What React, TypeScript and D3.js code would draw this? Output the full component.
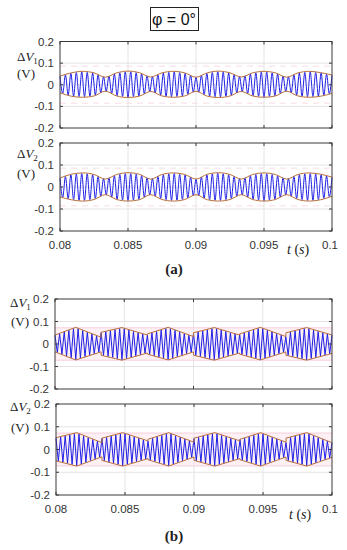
import React from "react";
import * as d3 from "d3";

const xTicks = [0.08, 0.085, 0.09, 0.095, 0.1];
const xTickLabels = ["0.08", "0.085", "0.09", "0.095", "0.1"];
const yTicks = [0.2, 0.1, 0, -0.1, -0.2];
const yTickLabels = ["0.2", "0.1", "0", "-0.1", "-0.2"];

// (a) envelope key times (quarter periods of the 300 Hz envelope)
const envTimesA = [
  0.08, 0.08083, 0.08167, 0.0825, 0.08333, 0.08417, 0.085, 0.08583, 0.08667,
  0.0875, 0.08833, 0.08917, 0.09, 0.09083, 0.09167, 0.0925, 0.09333, 0.09417,
  0.095, 0.09583, 0.09667, 0.0975, 0.09833, 0.09917, 0.1,
];
const a1Upper = [
  0.04, 0.055, 0.062, 0.055, 0.035, 0.055, 0.063, 0.056, 0.036, 0.055, 0.062,
  0.055, 0.035, 0.055, 0.063, 0.055, 0.036, 0.055, 0.062, 0.055, 0.035, 0.055,
  0.062, 0.056, 0.045,
];
const a1Lower = [
  -0.037, -0.053, -0.058, -0.052, -0.03, -0.052, -0.059, -0.053, -0.031,
  -0.052, -0.058, -0.052, -0.03, -0.053, -0.059, -0.052, -0.031, -0.052,
  -0.058, -0.052, -0.03, -0.052, -0.058, -0.053, -0.04,
];
const a2Upper = [
  0.041, 0.058, 0.064, 0.057, 0.036, 0.057, 0.065, 0.058, 0.036, 0.057, 0.064,
  0.057, 0.036, 0.058, 0.065, 0.057, 0.036, 0.057, 0.064, 0.057, 0.036, 0.057,
  0.064, 0.058, 0.045,
];
const a2Lower = [
  -0.045, -0.058, -0.064, -0.057, -0.035, -0.057, -0.064, -0.058, -0.035,
  -0.057, -0.064, -0.057, -0.035, -0.058, -0.064, -0.057, -0.035, -0.057,
  -0.064, -0.057, -0.035, -0.057, -0.064, -0.058, -0.042,
];

// (b) envelope: six segments with jumps at the boundaries
const envTimesB = [
  0.08, 0.0815, 0.08333, 0.08333, 0.08483, 0.08667, 0.08667, 0.08817, 0.09,
  0.09, 0.0915, 0.09333, 0.09333, 0.09483, 0.09667, 0.09667, 0.09817, 0.1,
];
const b1Upper = [
  0.04, 0.074, 0.03, 0.052, 0.073, 0.04, 0.045, 0.074, 0.033, 0.05, 0.073,
  0.04, 0.045, 0.074, 0.033, 0.05, 0.073, 0.04,
];
const b1Lower = [
  -0.035, -0.071, -0.035, -0.05, -0.072, -0.04, -0.045, -0.071, -0.035,
  -0.05, -0.072, -0.04, -0.045, -0.071, -0.035, -0.05, -0.072, -0.042,
];
const b2Upper = [
  0.052, 0.074, 0.03, 0.05, 0.074, 0.038, 0.045, 0.074, 0.032, 0.05, 0.074,
  0.038, 0.045, 0.074, 0.032, 0.05, 0.074, 0.03,
];
const b2Lower = [
  -0.05, -0.073, -0.032, -0.048, -0.073, -0.04, -0.045, -0.073, -0.033,
  -0.048, -0.073, -0.04, -0.045, -0.073, -0.033, -0.048, -0.073, -0.035,
];

const carrierHzA = 2500;
const carrierHzB = 3000;

const BLUE = "#1f1fe6";
const ENV = "#b8703e";
const PINK = "#f4bfd4";
const GRID = "#e4e4e4";
const SANS = "'Liberation Sans', Arial, sans-serif";
const SERIF = "'Liberation Serif', 'Times New Roman', serif";

function sampleEnv(times: number[], vals: number[], t: number): number {
  for (let i = 0; i < times.length - 1; i++) {
    const ta = times[i];
    const tb = times[i + 1];
    if (tb <= ta) continue;
    if (t >= ta && (t < tb || i === times.length - 2)) {
      const u = (t - ta) / (tb - ta);
      return vals[i] + (vals[i + 1] - vals[i]) * u;
    }
  }
  return vals[vals.length - 1];
}

type PanelProps = {
  left: number;
  right: number;
  top: number;
  bottom: number;
  times: number[];
  upper: number[];
  lower: number[];
  hz: number;
  smooth: boolean;
  showX: boolean;
  band: boolean;
};

function Panel(p: PanelProps) {
  const x = d3.scaleLinear().domain([0.08, 0.1]).range([p.left, p.right]);
  const y = d3.scaleLinear().domain([-0.2, 0.2]).range([p.bottom, p.top]);
  const half = 1 / (2 * p.hz);
  const carrier: [number, number][] = [];
  for (let k = 0; ; k++) {
    const t = 0.08 + k * half;
    if (t > 0.1 + 1e-9) break;
    const v =
      k % 2 === 0
        ? sampleEnv(p.times, p.upper, t)
        : sampleEnv(p.times, p.lower, t);
    carrier.push([t, v * 0.97]);
  }
  const line = d3
    .line<[number, number]>()
    .x((d) => x(d[0]))
    .y((d) => y(d[1]))
    .curve(p.smooth ? d3.curveMonotoneX : d3.curveLinear);
  const lineLin = d3
    .line<[number, number]>()
    .x((d) => x(d[0]))
    .y((d) => y(d[1]));
  const up: [number, number][] = p.times.map((t, i) => [t, p.upper[i]]);
  const lo: [number, number][] = p.times.map((t, i) => [t, p.lower[i]]);
  return (
    <g>
      <rect x={p.left} y={p.top} width={p.right - p.left} height={p.bottom - p.top} fill="#fff" />
      {p.band ? (
        <g>
          <rect
            x={p.left}
            y={y(0.075)}
            width={p.right - p.left}
            height={y(-0.075) - y(0.075)}
            fill="#fdf1f6"
          />
          <line x1={p.left} x2={p.right} y1={y(0.072)} y2={y(0.072)} stroke={PINK} strokeWidth={1} opacity={0.6} />
          <line x1={p.left} x2={p.right} y1={y(-0.072)} y2={y(-0.072)} stroke={PINK} strokeWidth={1} opacity={0.6} />
        </g>
      ) : (
        <g>
          <line x1={p.left} x2={p.right} y1={y(0.085)} y2={y(0.085)} stroke={PINK} strokeWidth={1.5} strokeDasharray="6 5" opacity={0.35} />
          <line x1={p.left} x2={p.right} y1={y(-0.085)} y2={y(-0.085)} stroke={PINK} strokeWidth={1.5} strokeDasharray="6 5" opacity={0.35} />
        </g>
      )}
      {xTicks.slice(1, -1).map((t) => (
        <line key={"gx" + t} x1={x(t)} x2={x(t)} y1={p.top} y2={p.bottom} stroke={GRID} strokeWidth={1} />
      ))}
      {yTicks.slice(1, -1).map((t) => (
        <line key={"gy" + t} x1={p.left} x2={p.right} y1={y(t)} y2={y(t)} stroke={GRID} strokeWidth={1} />
      ))}
      <path d={line(carrier) || ""} fill="none" stroke={BLUE} strokeWidth={1} />
      <path d={(p.smooth ? line(up) : lineLin(up)) || ""} fill="none" stroke={ENV} strokeWidth={1} />
      <path d={(p.smooth ? line(lo) : lineLin(lo)) || ""} fill="none" stroke={ENV} strokeWidth={1} />
      <rect x={p.left} y={p.top} width={p.right - p.left} height={p.bottom - p.top} fill="none" stroke="#3a3a3a" strokeWidth={1} />
      {xTicks.map((t) => (
        <g key={"tx" + t}>
          <line x1={x(t)} x2={x(t)} y1={p.bottom} y2={p.bottom - 3} stroke="#3a3a3a" />
          <line x1={x(t)} x2={x(t)} y1={p.top} y2={p.top + 3} stroke="#3a3a3a" />
        </g>
      ))}
      {yTicks.map((t) => (
        <g key={"ty" + t}>
          <line x1={p.left} x2={p.left + 3} y1={y(t)} y2={y(t)} stroke="#3a3a3a" />
          <line x1={p.right} x2={p.right - 3} y1={y(t)} y2={y(t)} stroke="#3a3a3a" />
        </g>
      ))}
      {yTicks.map((t, i) => (
        <text
          key={"ly" + t}
          x={p.left - 6}
          y={y(t)}
          dy="0.35em"
          textAnchor="end"
          fontFamily={SANS}
          fontSize={11.5}
          fill="#333"
        >
          {yTickLabels[i]}
        </text>
      ))}
      {p.showX &&
        xTicks.map((t, i) => (
          <text
            key={"lx" + t}
            x={x(t) - (i === xTicks.length - 1 ? 2 : 0)}
            y={p.bottom + 14}
            dy="0.35em"
            textAnchor="middle"
            fontFamily={SANS}
            fontSize={11.5}
            fill="#333"
          >
            {xTickLabels[i]}
          </text>
        ))}
    </g>
  );
}

function YLabel({ x, y, sub, vx, vy }: { x: number; y: number; sub: string; vx: number; vy: number }) {
  return (
    <g fontFamily={SERIF} fill="#222">
      <text x={x} y={y} fontSize={13}>
        Δ<tspan fontStyle="italic">V</tspan>
        <tspan fontSize={9} dy={3}>{sub}</tspan>
      </text>
      <text x={vx} y={vy} fontSize={13}>
        (V)
      </text>
    </g>
  );
}

function TLabel({ x, y }: { x: number; y: number }) {
  return (
    <text x={x} y={y} fontFamily={SERIF} fontSize={14} fill="#222">
      <tspan fontStyle="italic">t</tspan> (<tspan fontStyle="italic">s</tspan>)
    </text>
  );
}

export default function App() {
  return (
    <svg
      width={347}
      height={550}
      viewBox="0 0 347 550"
      style={{ position: "absolute", left: 0, top: 0, background: "#fff" }}
    >
      <rect x={0} y={0} width={347} height={550} fill="#fff" />
      <rect x={150.5} y={7.5} width={48} height={23} fill="#fff" stroke="#222" strokeWidth={1} />
      <text x={174} y={24.5} textAnchor="middle" fontFamily={SANS} fontSize={16} fill="#111">
        φ = 0°
      </text>

      <Panel left={60} right={332} top={41.5} bottom={128} times={envTimesA} upper={a1Upper} lower={a1Lower} hz={carrierHzA} smooth={true} showX={false} band={false} />
      <Panel left={60} right={332} top={143} bottom={231} times={envTimesA} upper={a2Upper} lower={a2Lower} hz={carrierHzA} smooth={true} showX={true} band={false} />
      <YLabel x={17} y={61} sub="1" vx={17} vy={78} />
      <YLabel x={17} y={158} sub="2" vx={17} vy={178} />
      <TLabel x={287} y={254} />
      <text x={174} y={274} textAnchor="middle" fontFamily={SERIF} fontSize={15} fontWeight="bold" fill="#222">
        (a)
      </text>

      <Panel left={55} right={332} top={299} bottom={389} times={envTimesB} upper={b1Upper} lower={b1Lower} hz={carrierHzB} smooth={false} showX={false} band={true} />
      <Panel left={56} right={332} top={404} bottom={495} times={envTimesB} upper={b2Upper} lower={b2Lower} hz={carrierHzB} smooth={false} showX={true} band={true} />
      <YLabel x={10} y={307} sub="1" vx={11} vy={326} />
      <YLabel x={10} y={411} sub="2" vx={11} vy={432} />
      <TLabel x={289} y={519} />
      <text x={174} y={541} textAnchor="middle" fontFamily={SERIF} fontSize={15} fontWeight="bold" fill="#222">
        (b)
      </text>
    </svg>
  );
}
